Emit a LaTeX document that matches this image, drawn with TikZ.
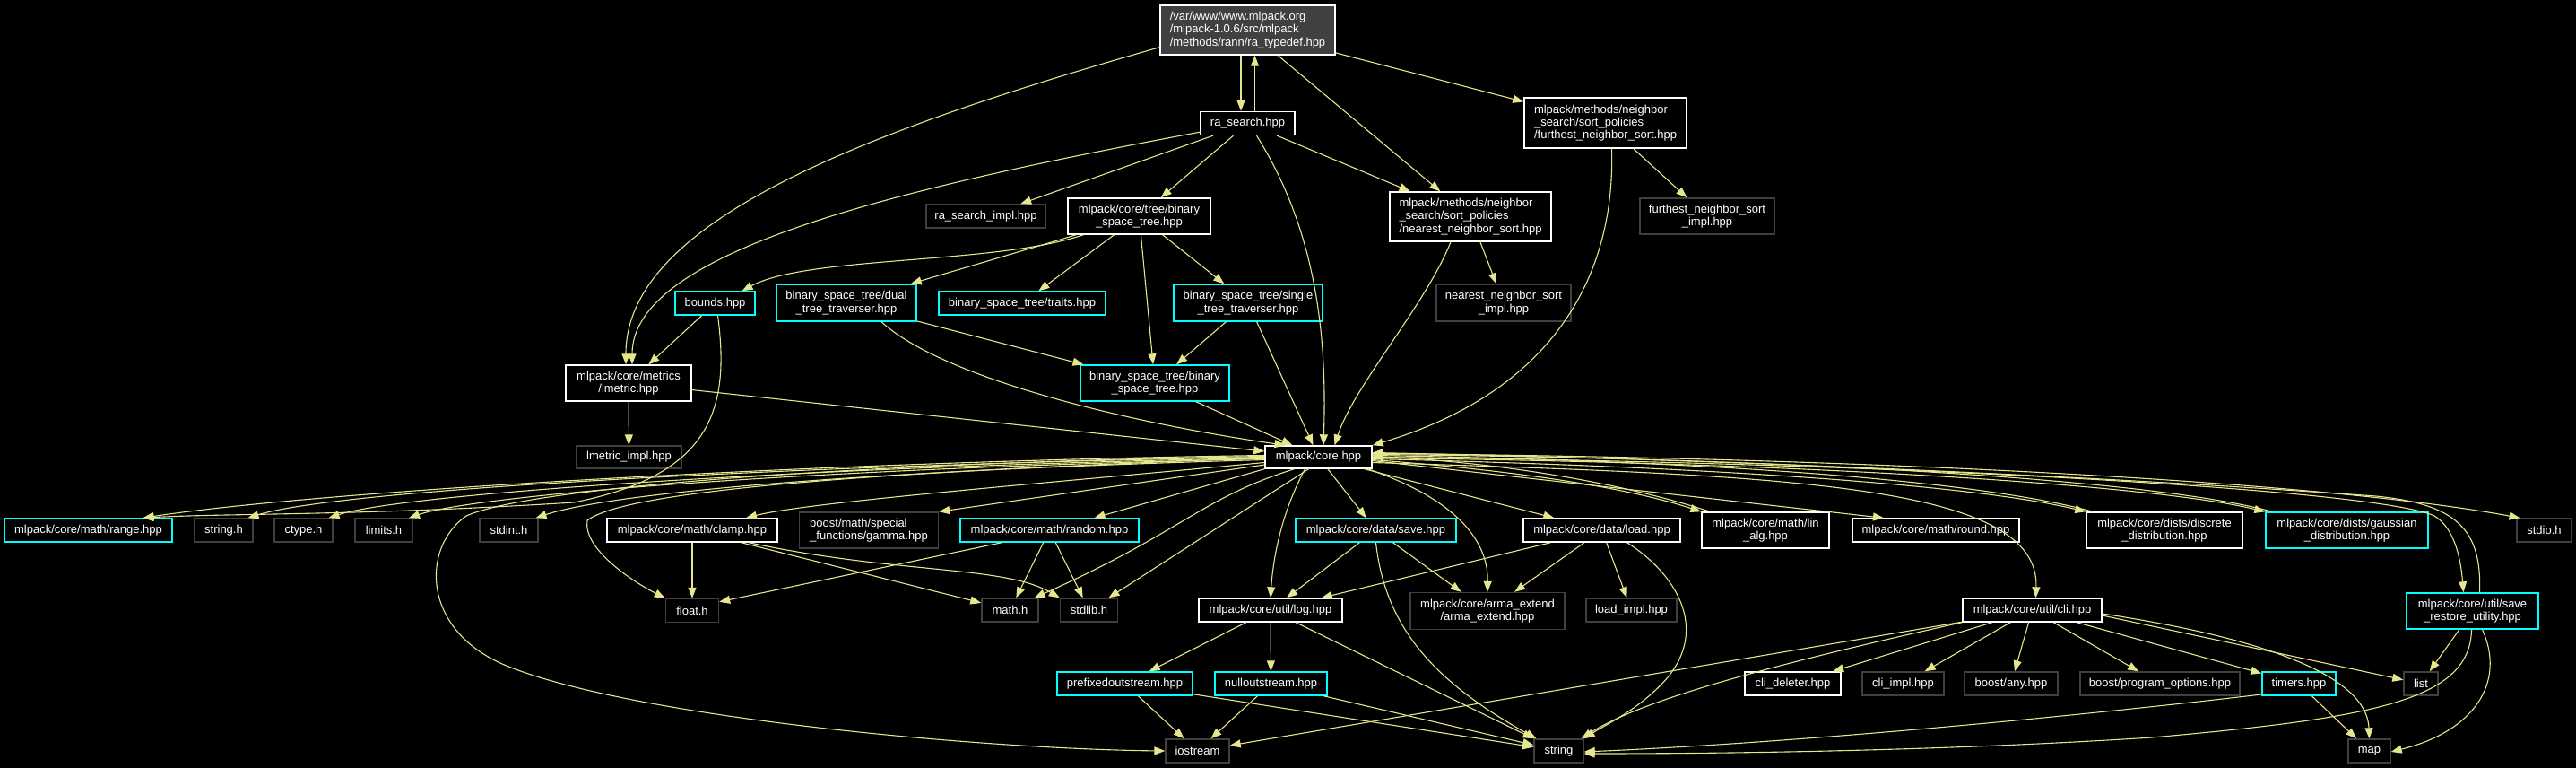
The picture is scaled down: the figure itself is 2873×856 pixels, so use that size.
\documentclass[tikz,border=0pt]{standalone}
\usepackage{fontspec}
\setmainfont{Liberation Sans}
\usetikzlibrary{arrows.meta}
\definecolor{edgec}{HTML}{E6E68F}
\definecolor{dgray}{HTML}{404040}
\definecolor{topfill}{HTML}{404040}
\definecolor{cyanb}{HTML}{00FFFF}
\begin{document}
\begin{tikzpicture}[x=1pt,y=-1pt,
  nb/.style={draw=white,line width=1.4pt,fill=black,text=white,inner sep=0pt,align=center,font=\fontsize{13pt}{14.3pt}\selectfont},
  ng/.style={nb,draw=dgray},
  nc/.style={nb,draw=cyanb},
  sz/.style 2 args={minimum width=#1pt,minimum height=#2pt},
  e/.style={draw=edgec,line width=1.1pt,-{Triangle[length=12pt,width=9pt]}}]
\fill[black] (0,0) rectangle (2873,856);
\useasboundingbox (0,0) rectangle (2873,856);
% nodes
\node[nb,fill=topfill,align=left,sz={195}{55}] (top) at (1391.5,33.5) {/var/www/www.mlpack.org\\/mlpack-1.0.6/src/mlpack\\/methods/rann/ra\_typedef.hpp};
\node[nb,sz={105}{26}] (ra) at (1391.5,137.5) {ra\_search.hpp};
\node[nb,align=left,sz={181}{56}] (fur) at (1790.5,137) {mlpack/methods/neighbor\\\_search/sort\_policies\\/furthest\_neighbor\_sort.hpp};
\node[ng,sz={150}{40}] (furimpl) at (1904,241) {furthest\_neighbor\_sort\\\_impl.hpp};
\node[ng,sz={133}{26}] (raimpl) at (1099.5,241) {ra\_search\_impl.hpp};
\node[nb,sz={159}{40}] (tree) at (1270.5,241) {mlpack/core/tree/binary\\\_space\_tree.hpp};
\node[nb,align=left,sz={180}{55}] (nns) at (1640,241.5) {mlpack/methods/neighbor\\\_search/sort\_policies\\/nearest\_neighbor\_sort.hpp};
\node[ng,sz={150}{41}] (nnsimpl) at (1677,337.5) {nearest\_neighbor\_sort\\\_impl.hpp};
\node[nc,sz={89}{26}] (bounds) at (797.5,338) {bounds.hpp};
\node[nc,sz={156}{41}] (dual) at (944,337.5) {binary\_space\_tree/dual\\\_tree\_traverser.hpp};
\node[nc,sz={186}{26}] (traits) at (1140,338) {binary\_space\_tree/traits.hpp};
\node[nc,sz={166}{41}] (single) at (1392,337.5) {binary\_space\_tree/single\\\_tree\_traverser.hpp};
\node[nc,sz={166}{40}] (bst) at (1288,427) {binary\_space\_tree/binary\\\_space\_tree.hpp};
\node[nb,sz={140}{40}] (lmetric) at (701,427) {mlpack/core/metrics\\/lmetric.hpp};
\node[ng,sz={117}{25}] (lmimpl) at (701.5,509.5) {lmetric\_impl.hpp};
\node[nb,sz={119}{25}] (core) at (1470.5,509.5) {mlpack/core.hpp};
\node[nc,sz={187}{26}] (range) at (98.5,591) {mlpack/core/math/range.hpp};
\node[ng,sz={65}{26}] (stringh) at (249.5,591) {string.h};
\node[ng,sz={65}{26}] (ctype) at (338.5,591) {ctype.h};
\node[ng,sz={64}{26}] (limits) at (428,591) {limits.h};
\node[ng,sz={65}{26}] (stdint) at (567.5,591) {stdint.h};
\node[nb,sz={190}{26}] (clamp) at (772,591) {mlpack/core/math/clamp.hpp};
\node[ng,align=left,sz={155}{40}] (gamma) at (969,591) {boost/math/special\\\_functions/gamma.hpp};
\node[nc,sz={199}{26}] (random) at (1170.5,591) {mlpack/core/math/random.hpp};
\node[nc,sz={179}{26}] (save) at (1534.5,591) {mlpack/core/data/save.hpp};
\node[nb,sz={175}{26}] (load) at (1786.5,591) {mlpack/core/data/load.hpp};
\node[nb,sz={142}{40}] (linalg) at (1969,591) {mlpack/core/math/lin\\\_alg.hpp};
\node[nb,sz={186}{26}] (round) at (2159,591) {mlpack/core/math/round.hpp};
\node[nb,sz={174}{40}] (discrete) at (2414,591) {mlpack/core/dists/discrete\\\_distribution.hpp};
\node[nc,sz={181}{40}] (gaussian) at (2617.5,591) {mlpack/core/dists/gaussian\\\_distribution.hpp};
\node[ng,sz={61}{26}] (stdio) at (2837.5,591) {stdio.h};
\node[ng,sz={59}{26}] (float) at (772,680.5) {float.h};
\node[ng,sz={63}{26}] (math) at (1126.5,680) {math.h};
\node[ng,sz={64}{26}] (stdlib) at (1214.5,680) {stdlib.h};
\node[nb,sz={160}{26}] (log) at (1417,680) {mlpack/core/util/log.hpp};
\node[ng,sz={172}{41}] (arma) at (1659,681) {mlpack/core/arma\_extend\\/arma\_extend.hpp};
\node[ng,sz={101}{26}] (loadimpl) at (1819.5,680) {load\_impl.hpp};
\node[nb,sz={155}{26}] (cli) at (2266.5,680) {mlpack/core/util/cli.hpp};
\node[nc,sz={147}{40}] (sru) at (2757.5,681) {mlpack/core/util/save\\\_restore\_utility.hpp};
\node[nc,sz={151}{26}] (prefixed) at (1254.5,762) {prefixedoutstream.hpp};
\node[nc,sz={125}{26}] (null) at (1417.5,762) {nulloutstream.hpp};
\node[nb,sz={107}{26}] (clidel) at (1999.5,762) {cli\_deleter.hpp};
\node[ng,sz={91}{26}] (cliimpl) at (2122.5,762) {cli\_impl.hpp};
\node[ng,sz={104}{26}] (any) at (2243,762) {boost/any.hpp};
\node[ng,sz={178}{26}] (po) at (2409,762) {boost/program\_options.hpp};
\node[nc,sz={82}{26}] (timers) at (2564,762) {timers.hpp};
\node[ng,sz={38}{26}] (list) at (2700,762) {list};
\node[ng,sz={71}{26}] (iostream) at (1335.5,837) {iostream};
\node[ng,sz={55}{26}] (string) at (1738.5,837) {string};
\node[ng,sz={47}{26}] (map) at (2642.5,837) {map};
% edges - top part
\draw[e] ([xshift=-7.5pt]top.south) -- ([xshift=-7.5pt]ra.north);
\draw[e] ([xshift=8pt]ra.north) -- ([xshift=8pt]top.south);
\draw[e] (top) -- (fur);
\draw[e] (top) -- (nns);
\draw[e] ([yshift=9pt]top.south west) .. controls (950,150) and (698,250) .. ([xshift=-3pt]lmetric.north);
\draw[e] ([yshift=4pt]ra.south west) .. controls (1000,210) and (705,280) .. ([xshift=4pt]lmetric.north);
\draw[e] (ra) -- (raimpl);
\draw[e] (ra) -- (tree);
\draw[e] (ra) -- (nns);
\draw[e] ([xshift=10pt]ra.south) .. controls (1470,260) and (1480,380) .. ([xshift=5.5pt]core.north);
\draw[e] (fur) -- (furimpl);
\draw[e] ([xshift=7pt]fur.south) .. controls (1802,320) and (1720,440) .. (core.north east);
\draw[e] (nns) -- (nnsimpl);
\draw[e] ([xshift=-22pt]nns.south) .. controls (1590,340) and (1510,430) .. ([xshift=18pt]core.north);
\draw[e] ([xshift=-62pt]tree.south) .. controls (1110,295) and (900,285) .. ([xshift=30pt]bounds.north);
\draw[e] (tree) -- (dual);
\draw[e] (tree) -- (traits);
\draw[e] (tree) -- (bst);
\draw[e] (tree) -- (single);
\draw[e] (bounds) -- (lmetric);
\draw[e] ([xshift=3pt]bounds.south) .. controls (815,460) and (790,530) .. (640,560) .. controls (400,575) and (250,572) .. ([xshift=61pt]range.north);
\draw[e] (dual) -- (bst);
\draw[e] ([xshift=39pt]dual.south) .. controls (1050,420) and (1250,470) .. ([xshift=-37pt]core.north);
\draw[e] (single) -- (bst);
\draw[e] (single) -- (core);
\draw[e] (bst) -- (core);
\draw[e] (lmetric) -- (core);
\draw[e] (lmetric) -- (lmimpl);
% core left bundle
\draw[e] ([yshift=2pt]core.west) .. controls (900,515) and (350,548) .. ([xshift=61pt]range.north);
\draw[e] (core.west) .. controls (900,518) and (380,545) .. ([xshift=27pt]stringh.north);
\draw[e] ([yshift=-1pt]core.west) .. controls (900,520) and (450,550) .. ([xshift=28pt]ctype.north);
\draw[e] ([yshift=-2pt]core.west) .. controls (900,522) and (530,552) .. ([xshift=28pt]limits.north);
\draw[e] ([yshift=-3pt]core.west) .. controls (950,525) and (680,550) .. ([xshift=30pt]stdint.north);
\draw[e] ([yshift=-6pt]core.west) .. controls (1150,540) and (900,560) .. ([xshift=60pt]clamp.north);
\draw[e] ([yshift=-8.5pt]core.west) -- (gamma.north east);
\draw[e] ([yshift=-1pt]core.west) .. controls (1000,525) and (700,545) .. (655,580) .. controls (650,610) and (700,645) .. (float.north west);
\draw[e] ([yshift=1pt]core.west) .. controls (1000,515) and (600,540) .. (520,575) .. controls (470,610) and (470,700) .. (560,740) .. controls (700,800) and (1100,835) .. (iostream.west);
% core downward
\draw[e] (core.south west) -- ([xshift=50pt]random.north);
\draw[e] ([xshift=-27pt]core.south) .. controls (1340,555) and (1320,592) .. ([xshift=-5pt]math.north east);
\draw[e] ([xshift=-11pt]core.south) -- ([xshift=22pt]stdlib.north);
\draw[e] ([xshift=-15pt]core.south) .. controls (1430,570) and (1420,620) .. (log.north);
\draw[e] (core) -- (save);
\draw[e] (core) -- (load);
\draw[e] ([xshift=55pt]core.south) .. controls (1620,555) and (1660,600) .. (arma.north);
% core right bundle
\draw[e] ([yshift=-3pt]core.east) .. controls (1700,525) and (1820,545) .. (linalg.north west);
\draw[e] ([xshift=10pt]linalg.north west) .. controls (1830,545) and (1700,517) .. ([yshift=1pt]core.east);
\draw[e] ([yshift=-4pt]core.east) -- ([xshift=-58pt]round.north);
\draw[e] ([yshift=-2pt]core.east) .. controls (1900,520) and (2200,540) .. (discrete.north west);
\draw[e] ([xshift=8pt]discrete.north west) .. controls (2200,534) and (1900,514) .. ([yshift=2pt]core.east);
\draw[e] ([yshift=-1pt]core.east) .. controls (2000,515) and (2400,540) .. (gaussian.north west);
\draw[e] ([xshift=8pt]gaussian.north west) .. controls (2400,534) and (2000,511) .. ([yshift=3pt]core.east);
\draw[e] ([yshift=4pt]core.east) .. controls (2100,510) and (2600,538) .. ([xshift=-27pt]stdio.north);
\draw[e] (core.east) .. controls (2100,515) and (2650,545) .. (2715,575) .. controls (2740,590) and (2745,630) .. ([xshift=-10pt]sru.north);
\draw[e] ([xshift=8pt]sru.north) .. controls (2768,590) and (2740,562) .. (2650,553) .. controls (2300,528) and (1900,512) .. ([yshift=5pt]core.east);
\draw[e] ([yshift=-6pt]core.east) .. controls (2000,530) and (2275,540) .. ([xshift=4pt]cli.north);
% math headers
\draw[e] (clamp) -- (float);
\draw[e] (clamp) -- (math);
\draw[e] ([xshift=63pt]clamp.south) .. controls (1000,640) and (1120,630) .. (stdlib.north west);
\draw[e] ([xshift=-53pt]random.south) -- ([yshift=-4pt]float.north east);
\draw[e] (random) -- (math);
\draw[e] (random) -- (stdlib);
% data
\draw[e] (save) -- (log);
\draw[e] (save) -- (arma);
\draw[e] (save.south) .. controls (1545,700) and (1600,760) .. ([xshift=-25pt]string.north);
\draw[e] (load) -- (log);
\draw[e] (load) -- (arma);
\draw[e] (load) -- (loadimpl);
\draw[e] ([xshift=28pt]load.south) .. controls (1870,640) and (1905,700) .. (1860,755) .. controls (1830,790) and (1790,808) .. (string.north east);
% log
\draw[e] (log) -- (prefixed);
\draw[e] (log) -- (null);
\draw[e] (log) -- (string);
\draw[e] (prefixed) -- (iostream);
\draw[e] (prefixed) -- (string);
\draw[e] (null) -- (iostream);
\draw[e] (null) -- (string);
% cli
\draw[e] (cli) -- (clidel);
\draw[e] (cli) -- (cliimpl);
\draw[e] (cli) -- (any);
\draw[e] (cli) -- (po);
\draw[e] (cli) -- (timers);
\draw[e] (cli) -- (iostream);
\draw[e] ([yshift=-6pt]cli.east) -- (list);
\draw[e] ([yshift=-4pt]cli.east) .. controls (2550,715) and (2640,760) .. (map.north);
\draw[e] (cli.south west) .. controls (1980,740) and (1830,780) .. ([xshift=-3pt]string.north east);
\draw[e] (timers) -- (map);
\draw[e] ([yshift=-12pt]timers.west) .. controls (2300,800) and (2000,828) .. ([yshift=-1pt]string.east);
% save_restore
\draw[e] (sru) -- (list);
\draw[e] ([xshift=11pt]sru.south) .. controls (2795,760) and (2760,815) .. ([yshift=-1pt]map.east);
\draw[e] ([xshift=-1pt]sru.south) .. controls (2755,780) and (2650,800) .. (2400,822) .. controls (2150,838) and (1900,840) .. ([yshift=-3pt]string.east);
\end{tikzpicture}
\end{document}
